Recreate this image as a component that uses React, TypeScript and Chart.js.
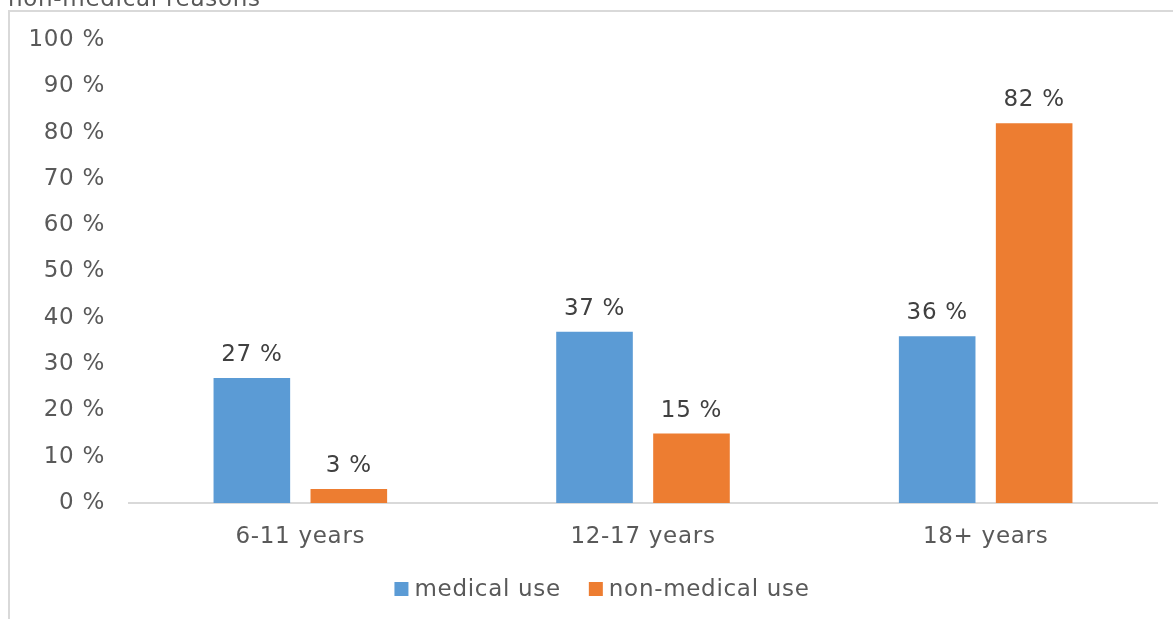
import React, { useEffect, useRef } from "react";
import { Chart, registerables } from "chart.js";

Chart.register(...registerables);

const categories = ["6-11 years", "12-17 years", "18+ years"];
const medicalUse = [27, 37, 36];
const nonMedicalUse = [3, 15, 82];
const seriesNames = ["medical use", "non-medical use"];
const seriesColors = ["#5B9BD5", "#ED7D31"];
const yMax = 100;
const yStep = 10;
const titleText = "non-medical reasons";

const FONT = '"DejaVu Sans", Verdana, sans-serif';
const TEXT = "#595959";
const LABEL = "#404040";
const LINE = "#D9D9D9";

const framePlugin = {
  id: "frame",
  beforeInit(chart: any) {
    try {
      chart.ctx.letterSpacing = "0.7px";
    } catch (e) {}
  },
  beforeDraw(chart: any) {
    const ctx = chart.ctx;
    try {
      ctx.letterSpacing = "0.7px";
    } catch (e) {}
    ctx.save();
    ctx.fillStyle = "#ffffff";
    ctx.fillRect(0, 0, chart.width, chart.height);
    ctx.strokeStyle = LINE;
    ctx.lineWidth = 2;
    ctx.beginPath();
    ctx.moveTo(9, chart.height + 5);
    ctx.lineTo(9, 11);
    ctx.lineTo(chart.width + 5, 11);
    ctx.stroke();
    ctx.font = `23px ${FONT}`;
    ctx.fillStyle = TEXT;
    ctx.textAlign = "left";
    ctx.textBaseline = "alphabetic";
    ctx.fillText(titleText, 8, 6);
    ctx.restore();
  },
};

const valueLabelPlugin = {
  id: "valueLabels",
  afterDatasetsDraw(chart: any) {
    const ctx = chart.ctx;
    ctx.save();
    ctx.font = `23px ${FONT}`;
    ctx.fillStyle = LABEL;
    ctx.textAlign = "center";
    ctx.textBaseline = "alphabetic";
    chart.data.datasets.forEach((ds: any, i: number) => {
      const meta = chart.getDatasetMeta(i);
      meta.data.forEach((el: any, j: number) => {
        ctx.fillText(`${ds.data[j]} %`, el.x, el.y - 17);
      });
    });
    ctx.restore();
  },
};

const legendPlugin = {
  id: "customLegend",
  afterDraw(chart: any) {
    const ctx = chart.ctx;
    ctx.save();
    ctx.font = `23px ${FONT}`;
    ctx.textBaseline = "alphabetic";
    ctx.textAlign = "left";
    const box = 14;
    const gapText = 6;
    const gapItem = 28;
    const items = chart.data.datasets.map((ds: any) => ({
      label: ds.label,
      color: ds.backgroundColor,
      w: ctx.measureText(ds.label).width,
    }));
    const total =
      items.reduce((s: number, it: any) => s + box + gapText + it.w, 0) +
      gapItem * (items.length - 1);
    let x = 602 - total / 2;
    const baseline = 596;
    items.forEach((it: any) => {
      ctx.fillStyle = it.color;
      ctx.fillRect(x, 582, box, box);
      x += box + gapText;
      ctx.fillStyle = TEXT;
      ctx.fillText(it.label, x, baseline);
      x += it.w + gapItem;
    });
    ctx.restore();
  },
};

export default function App() {
  const ref = useRef<HTMLCanvasElement | null>(null);

  useEffect(() => {
    if (!ref.current) return;
    const chart = new Chart(ref.current, {
      type: "bar",
      data: {
        labels: categories,
        datasets: [
          {
            label: seriesNames[0],
            data: medicalUse,
            backgroundColor: seriesColors[0],
            categoryPercentage: 0.566,
            barPercentage: 0.79,
          },
          {
            label: seriesNames[1],
            data: nonMedicalUse,
            backgroundColor: seriesColors[1],
            categoryPercentage: 0.566,
            barPercentage: 0.79,
          },
        ],
      },
      options: {
        responsive: false,
        animation: false,
        layout: { padding: { top: 40, right: 16, bottom: 0, left: 0 } },
        plugins: {
          legend: { display: false },
          tooltip: { enabled: false },
          title: { display: false },
        },
        scales: {
          x: {
            grid: { display: false, drawTicks: false },
            border: { display: true, color: LINE, width: 2 },
            ticks: {
              color: TEXT,
              font: { family: FONT, size: 23 },
              padding: 20,
              maxRotation: 0,
            },
            afterFit(scale: any) {
              scale.height = 116;
            },
          },
          y: {
            min: 0,
            max: yMax,
            grid: { display: false, drawTicks: false },
            border: { display: false },
            ticks: {
              stepSize: yStep,
              color: TEXT,
              font: { family: FONT, size: 23 },
              padding: 24,
              callback: (v: any) => `${v} %`,
            },
            afterFit(scale: any) {
              scale.width = 129;
            },
          },
        },
      },
      plugins: [framePlugin, valueLabelPlugin, legendPlugin],
    });
    return () => chart.destroy();
  }, []);

  return (
    <div style={{ position: "fixed", left: 0, top: 0, width: 1173, height: 619 }}>
      <canvas ref={ref} width={1173} height={619} style={{ display: "block" }} />
    </div>
  );
}
